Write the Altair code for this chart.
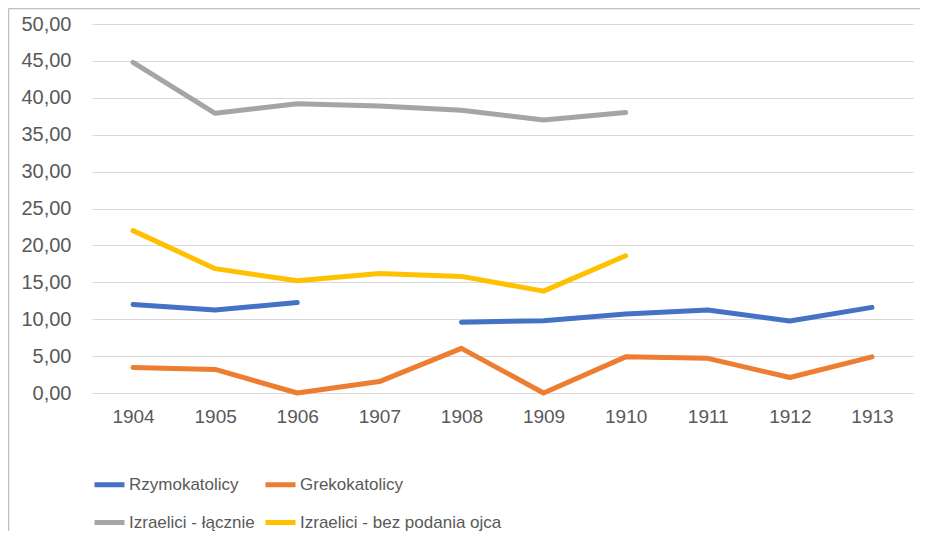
import altair as alt
import pandas as pd

years = [1904, 1905, 1906, 1907, 1908, 1909, 1910, 1911, 1912, 1913]
series_names = ["Rzymokatolicy", "Grekokatolicy", "Izraelici - łącznie", "Izraelici - bez podania ojca"]
series_colors = ["#4472C4", "#ED7D31", "#A5A5A5", "#FFC000"]
rzymokatolicy = [12.0, 11.25, 12.25, None, 9.6, 9.8, 10.7, 11.25, 9.75, 11.6]
grekokatolicy = [3.45, 3.2, 0.0, 1.55, 6.05, 0.0, 4.9, 4.7, 2.1, 4.9]
izraelici_lacznie = [44.8, 37.9, 39.2, 38.9, 38.3, 37.0, 38.0, None, None, None]
izraelici_bez = [22.0, 16.85, 15.2, 16.2, 15.8, 13.8, 18.6, None, None, None]
y_ticks = [0, 5, 10, 15, 20, 25, 30, 35, 40, 45, 50]

rows = []
for name, vals in zip(series_names, [rzymokatolicy, grekokatolicy, izraelici_lacznie, izraelici_bez]):
    seg = 0
    prev_none = False
    for yr, v in zip(years, vals):
        if v is None:
            prev_none = True
            continue
        if prev_none:
            seg += 1
            prev_none = False
        rows.append({"year": str(yr), "value": v, "series": name, "seg": f"{name}-{seg}"})
df = pd.DataFrame(rows)

FONT = "Liberation Sans"

lines = alt.Chart(df).mark_line(strokeWidth=5, strokeCap="round", strokeJoin="round").encode(
    x=alt.X("year:O", scale=alt.Scale(type="point", padding=0.5, domain=[str(y) for y in years]),
            axis=alt.Axis(title=None, labelAngle=0, ticks=False, domain=False, grid=False,
                          labelFont=FONT, labelFontSize=19, labelColor="#595959", labelPadding=14)),
    y=alt.Y("value:Q", scale=alt.Scale(domain=[0, 50], nice=False),
            axis=alt.Axis(title=None, values=y_ticks, ticks=False, domain=False, grid=True,
                          gridColor="#D9D9D9", gridWidth=1.2,
                          labelExpr="replace(format(datum.value, '.2f'), '.', ',')",
                          labelFont=FONT, labelFontSize=20, labelColor="#595959", labelPadding=21)),
    color=alt.Color("series:N", scale=alt.Scale(domain=series_names, range=series_colors),
                    legend=alt.Legend(title=None, orient="none", legendX=0, legendY=443, columns=2,
                                      direction="horizontal",
                                      symbolType="stroke", symbolSize=900, symbolStrokeWidth=5,
                                      labelFont=FONT, labelFontSize=17,
                                      labelColor="#595959", labelOffset=2,
                                      columnPadding=0, rowPadding=10, labelLimit=400)),
    detail="seg:N",
    order="year:O",
)

frame = pd.DataFrame({"a": [0]})
top_border = alt.Chart(frame).mark_rule(color="#BFBFBF", strokeWidth=1.5).encode(
    x=alt.value(-83.5), x2=alt.value(836), y=alt.value(-15.5))
left_border = alt.Chart(frame).mark_rule(color="#BFBFBF", strokeWidth=1.5).encode(
    x=alt.value(-83.5), y=alt.value(-15.5), y2=alt.value(520))

chart = alt.layer(lines, top_border, left_border).properties(
    width=821, height=369,
    autosize=alt.AutoSizeParams(type="none"),
    padding={"left": 84, "top": 16, "right": 7, "bottom": 138},
).configure_view(stroke=None)

chart.save("out.html", embed_options={"renderer": "svg", "actions": False})
